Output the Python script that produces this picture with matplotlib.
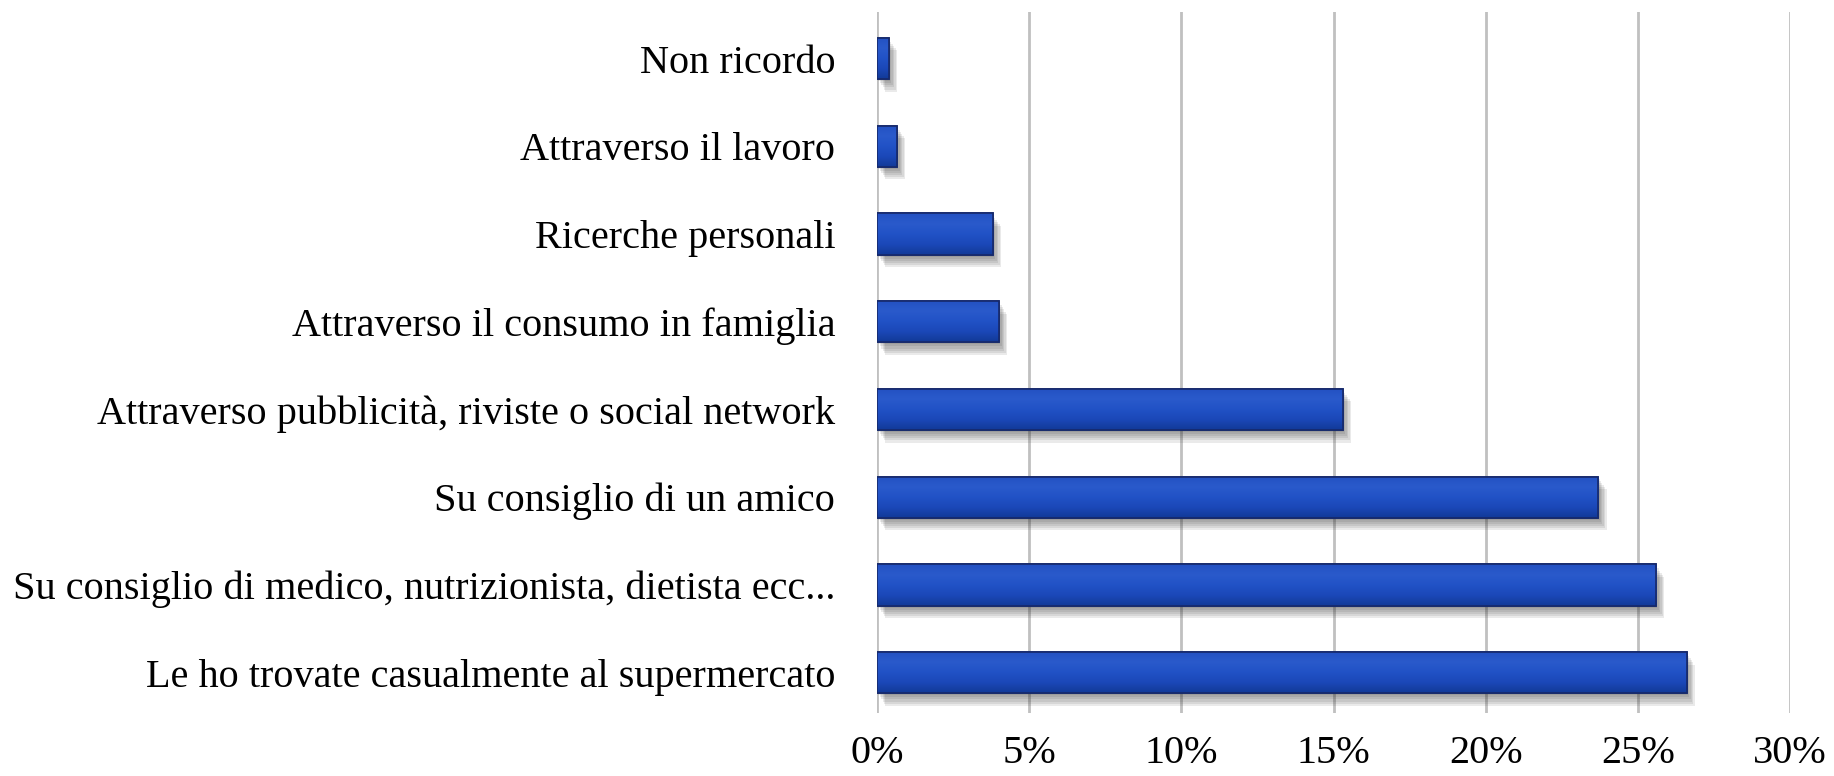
import matplotlib.pyplot as plt
import matplotlib.patheffects as pe
from matplotlib.colors import LinearSegmentedColormap
import numpy as np

categorie = ['Le ho trovate casualmente al supermercato',
             'Su consiglio di medico, nutrizionista, dietista ecc...',
             'Su consiglio di un amico',
             'Attraverso pubblicità, riviste o social network',
             'Attraverso il consumo in famiglia',
             'Ricerche personali',
             'Attraverso il lavoro',
             'Non ricordo']
percentuali = [26.6, 25.6, 23.7, 15.3, 4.0, 3.8, 0.65, 0.38]
tick_valori = [0, 5, 10, 15, 20, 25, 30]
tick_testi = ['0%', '5%', '10%', '15%', '20%', '25%', '30%']

plt.rcParams['font.family'] = ['Liberation Serif', 'DejaVu Serif']

fig = plt.figure(figsize=(18.34, 7.76), dpi=100)
ax = fig.add_axes([0.4782, 0.0812, 0.4978, 0.9033])

# soft shadow: a few offset copies with low alpha
ombra = [pe.SimplePatchShadow(offset=(o, -o * 1.5), shadow_rgbFace='#333333', alpha=0.10)
         for o in (1, 2, 3, 4, 5, 6)]

y = np.arange(len(categorie))
h = 0.47
bars = ax.barh(y, percentuali, height=h, color='#1e4fc4', edgecolor='#16296b',
               linewidth=1.2, zorder=3, path_effects=ombra + [pe.Normal()])

# vertical gradient on every bar
cmap = LinearSegmentedColormap.from_list('blu', ['#123a98', '#1b48b8', '#2152c6', '#2a5acb', '#2351c2'])
grad = np.linspace(0, 1, 64).reshape(-1, 1)
for b in bars:
    x0, y0 = b.get_x(), b.get_y()
    im = ax.imshow(grad, cmap=cmap, origin='lower', aspect='auto', zorder=4,
                   extent=(x0, x0 + b.get_width(), y0, y0 + b.get_height()))
    im.set_clip_path(b)
    ax.add_patch(plt.Rectangle((x0, y0), b.get_width(), b.get_height(), fill=False,
                               edgecolor='#16296b', linewidth=1.2, zorder=5))

ax.set_xlim(0, 30)
ax.set_ylim(-0.46, 7.53)
ax.set_xticks(tick_valori)
ax.set_xticklabels(tick_testi)
ax.set_yticks(y)
ax.set_yticklabels(categorie)
ax.tick_params(axis='x', length=0, pad=16, labelsize=29)
ax.tick_params(axis='y', length=0, pad=30, labelsize=29)
ax.grid(axis='x', color='#c0c0c0', linewidth=2, zorder=0)
ax.set_axisbelow(True)
for s in ax.spines.values():
    s.set_visible(False)

fig.savefig('out.png', dpi=100)
